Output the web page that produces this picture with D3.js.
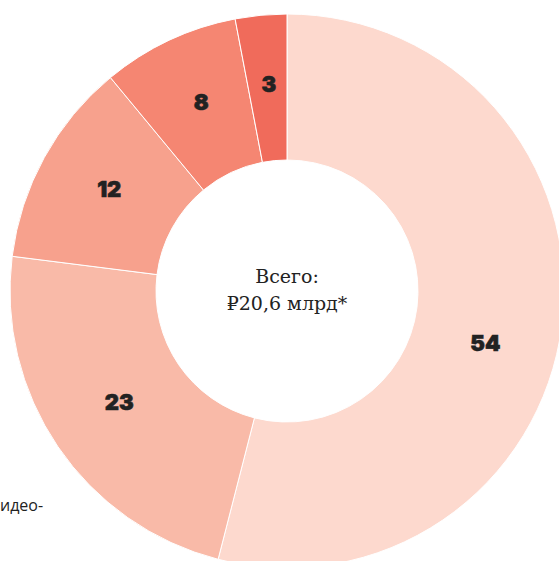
<!DOCTYPE html>
<html>
<head>
<meta charset="utf-8">
<script src="https://cdn.jsdelivr.net/npm/d3@7"></script>
<style>
    html, body { margin: 0; padding: 0; background: #fff; }
    svg { display: block; }
</style>
</head>
<body>
<div id="chart"></div>
<script>
// Shares of the total, percent, clockwise from 12 o'clock
const values = [54, 23, 12, 8, 3];
const colors = ['#fdd9ce', '#f9baa8', '#f7a18d', '#f58672', '#f06b5b'];
const centerLines = ['Всего:', '₽20,6 млрд*'];

const width = 559, height = 561;
const cx = 287, cy = 291;
const outerR = 277, innerR = 131;

const svg = d3.select('#chart')
    .append('svg')
    .attr('width', width)
    .attr('height', height);

const g = svg.append('g')
    .attr('transform', `translate(${cx},${cy})`);

const pie = d3.pie().sort(null).value(d => d);
const arc = d3.arc().innerRadius(innerR).outerRadius(outerR);
const labelArc = d3.arc().innerRadius(204).outerRadius(204);

const arcs = pie(values);

g.selectAll('path.slice')
    .data(arcs)
    .enter()
    .append('path')
    .attr('class', 'slice')
    .attr('d', arc)
    .attr('fill', (d, i) => colors[i])
    .attr('stroke', '#fff')
    .attr('stroke-width', 1);

// big slice runs off the right edge, so its label sits a bit lower
g.selectAll('text.val')
    .data(arcs)
    .enter()
    .append('text')
    .attr('class', 'val')
    .attr('transform', (d, i) => {
        const [x, y] = labelArc.centroid(d);
        return i === 0 ? `translate(${x - 4},${y + 26})` : `translate(${x + 1},${y - 4})`;
    })
    .attr('text-anchor', 'middle')
    .attr('dominant-baseline', 'central')
    .attr('font-family', 'Inter, "DejaVu Sans", sans-serif')
    .attr('font-weight', 900)
    .attr('font-size', 22)
    .attr('fill', '#222')
    .attr('stroke', '#222')
    .attr('stroke-width', 0.6)
    .text(d => d.data);

// center caption
g.selectAll('text.center')
    .data(centerLines)
    .enter()
    .append('text')
    .attr('class', 'center')
    .attr('x', 0)
    .attr('y', (d, i) => -15 + i * 27)
    .attr('text-anchor', 'middle')
    .attr('dominant-baseline', 'central')
    .attr('font-family', '"DejaVu Serif", serif')
    .attr('font-size', 19)
    .attr('fill', '#222')
    .text(d => d);

// legend fragment left over at the left edge
svg.append('text')
    .attr('x', 0)
    .attr('y', 511)
    .attr('font-family', '"Open Sans", sans-serif')
    .attr('font-size', 16)
    .attr('fill', '#222')
    .text('идео-');
</script>
</body>
</html>
